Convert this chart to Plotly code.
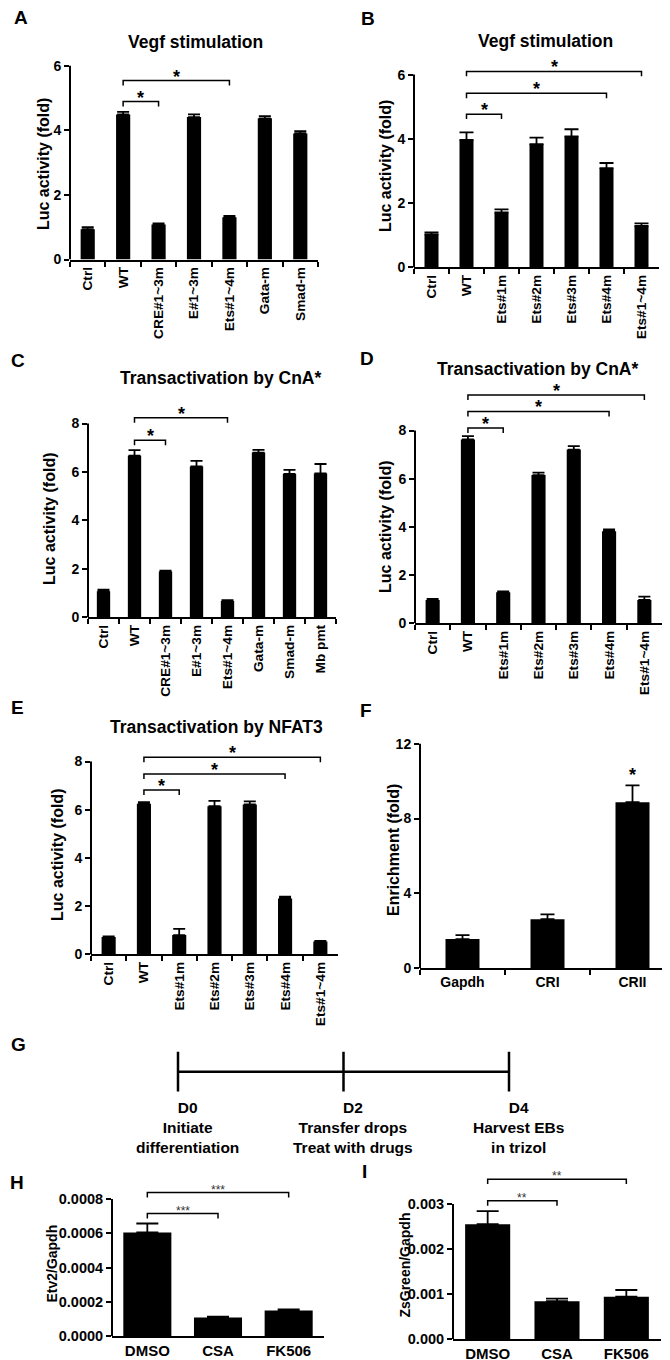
import plotly.graph_objects as go

W, H = 670, 1360
FONT = "Liberation Sans"

# ---------------- data ----------------
cat_A = ["Ctrl", "WT", "CRE#1~3m", "E#1~3m", "Ets#1~4m", "Gata-m", "Smad-m"]
val_A = [0.94, 4.49, 1.08, 4.41, 1.31, 4.37, 3.90]
err_A = [0.06, 0.08, 0.04, 0.08, 0.04, 0.07, 0.07]
sig_A = [("WT", "CRE#1~3m", 4.89, "*"), ("WT", "Ets#1~4m", 5.54, "*")]

cat_ets = ["Ctrl", "WT", "Ets#1m", "Ets#2m", "Ets#3m", "Ets#4m", "Ets#1~4m"]
val_B = [1.03, 3.97, 1.71, 3.84, 4.08, 3.09, 1.29]
err_B = [0.06, 0.23, 0.10, 0.20, 0.22, 0.16, 0.08]
sig_B = [("WT", "Ets#1m", 4.77, "*"), ("WT", "Ets#4m", 5.42, "*"), ("WT", "Ets#1~4m", 6.10, "*")]

cat_C = ["Ctrl", "WT", "CRE#1~3m", "E#1~3m", "Ets#1~4m", "Gata-m", "Smad-m", "Mb pmt"]
val_C = [1.08, 6.67, 1.89, 6.23, 0.68, 6.80, 5.92, 5.94]
err_C = [0.06, 0.23, 0.04, 0.23, 0.03, 0.11, 0.17, 0.39]
sig_C = [("WT", "CRE#1~3m", 7.31, "*"), ("WT", "Ets#1~4m", 8.24, "*")]

val_D = [0.97, 7.63, 1.29, 6.15, 7.21, 3.82, 0.97]
err_D = [0.04, 0.14, 0.04, 0.10, 0.14, 0.08, 0.14]
sig_D = [("WT", "Ets#1m", 8.10, "*"), ("WT", "Ets#4m", 8.79, "*"), ("WT", "Ets#1~4m", 9.47, "*")]

val_E = [0.72, 6.25, 0.80, 6.15, 6.22, 2.32, 0.53]
err_E = [0.03, 0.07, 0.26, 0.22, 0.13, 0.08, 0.03]
sig_E = [("WT", "Ets#1m", 6.82, "*"), ("WT", "Ets#4m", 7.48, "*"), ("WT", "Ets#1~4m", 8.18, "*")]

cat_F = ["Gapdh", "CRI", "CRII"]
val_F = [1.56, 2.62, 8.87]
err_F = [0.21, 0.26, 0.90]
star_F = [("CRII", 10.35, "*")]

cat_drug = ["DMSO", "CSA", "FK506"]
val_H = [0.000605, 0.000108, 0.000150]
err_H = [0.000052, 0.000006, 0.000006]
sig_H = [("DMSO", "CSA", 0.000715, "***"), ("DMSO", "FK506", 0.000837, "***")]

val_I = [0.00255, 0.00084, 0.00094]
err_I = [0.00029, 0.00006, 0.00015]
sig_I = [("DMSO", "CSA", 0.00307, "**"), ("DMSO", "FK506", 0.00355, "**")]

timeline_days = [0, 2, 4]
timeline_labels = ["D0<br>Initiate<br>differentiation",
                   "D2<br>Transfer drops<br>Treat with drugs",
                   "D4<br>Harvest EBs<br>in trizol"]

# ---------------- layout geometry (pixels) ----------------
panels = [
    dict(n=1, cats=cat_A, vals=val_A, errs=err_A, sig=sig_A, stars=[], x0=62, x1=310, py0=253, pytop=58,
         ytop=6, tickvals=[0, 2, 4, 6], ticktext=None, bw=0.4, cap=6, rot=True,
         title="Vegf stimulation", tpos=(187, 34), label="A", lpos=(13, 10),
         ytitle="Luc activity (fold)", ytpos=(35, 157), ytsize=16, sigsize=18, xticks=True),
    dict(n=2, cats=cat_ets, vals=val_B, errs=err_B, sig=sig_B, stars=[], x0=406, x1=651, py0=261, pytop=67,
         ytop=6, tickvals=[0, 2, 4, 6], ticktext=None, bw=0.4, cap=7, rot=True,
         title="Vegf stimulation", tpos=(537, 33), label="B", lpos=(360, 11),
         ytitle="Luc activity (fold)", ytpos=(377, 159), ytsize=16, sigsize=18, xticks=True),
    dict(n=3, cats=cat_C, vals=val_C, errs=err_C, sig=sig_C, stars=[], x0=80, x1=328, py0=613, pytop=418,
         ytop=8, tickvals=[0, 2, 4, 6, 8], ticktext=None, bw=0.43, cap=6, rot=True,
         title="Transactivation by CnA*", tpos=(212, 372), label="C", lpos=(10, 355),
         ytitle="Luc activity (fold)", ytpos=(42, 514), ytsize=16, sigsize=18, xticks=True),
    dict(n=4, cats=cat_ets, vals=val_D, errs=err_D, sig=sig_D, stars=[], x0=407, x1=654, py0=619, pytop=425,
         ytop=8, tickvals=[0, 2, 4, 6, 8], ticktext=None, bw=0.4, cap=6, rot=True,
         title="Transactivation by CnA*", tpos=(529, 363), label="D", lpos=(359, 353),
         ytitle="Luc activity (fold)", ytpos=(378, 522), ytsize=16, sigsize=18, xticks=True),
    dict(n=5, cats=cat_ets, vals=val_E, errs=err_E, sig=sig_E, stars=[], x0=83, x1=330, py0=952, pytop=758,
         ytop=8, tickvals=[0, 2, 4, 6, 8], ticktext=None, bw=0.4, cap=6, rot=True,
         title="Transactivation by NFAT3", tpos=(208, 723), label="E", lpos=(9, 704),
         ytitle="Luc activity (fold)", ytpos=(50, 852), ytsize=16, sigsize=18, xticks=True),
    dict(n=6, cats=cat_F, vals=val_F, errs=err_F, sig=[], stars=star_F, x0=412, x1=667, py0=966, pytop=740,
         ytop=12, tickvals=[0, 4, 8, 12], ticktext=None, bw=0.4, cap=7, rot=False,
         title=None, tpos=None, label="F", lpos=(358, 707),
         ytitle="Enrichment (fold)", ytpos=(385, 847), ytsize=16, sigsize=18, xticks=True),
    dict(n=8, cats=cat_drug, vals=val_H, errs=err_H, sig=sig_H, stars=[], x0=104, x1=316, py0=1336, pytop=1198,
         ytop=0.0008, tickvals=[0, 0.0002, 0.0004, 0.0006, 0.0008],
         ticktext=["0.0000", "0.0002", "0.0004", "0.0006", "0.0008"], bw=0.68, cap=11, rot=False,
         title=None, tpos=None, label="H", lpos=(9, 1181),
         ytitle="Etv2/Gapdh", ytpos=(44, 1263), ytsize=14, sigsize=12, xticks=False),
    dict(n=9, cats=cat_drug, vals=val_I, errs=err_I, sig=sig_I, stars=[], x0=445, x1=653, py0=1339, pytop=1203,
         ytop=0.003, tickvals=[0, 0.001, 0.002, 0.003],
         ticktext=["0.000", "0.001", "0.002", "0.003"], bw=0.65, cap=11, rot=False,
         title=None, tpos=None, label="I", lpos=(356, 1170),
         ytitle="ZsGreen/Gapdh", ytpos=(397, 1264), ytsize=14, sigsize=12, xticks=False),
]

fig = go.Figure()
annotations = []
shapes = []
layout_axes = {}

def bold(size):
    return dict(family=FONT, size=size, color="black", weight="bold")

def sfx(n):
    return "" if n == 1 else str(n)

for p in panels:
    n = p["n"]
    xa, ya = f"x{sfx(n)}", f"y{sfx(n)}"
    ppu = (p["py0"] - p["pytop"]) / p["ytop"]
    top_vals = [s[2] for s in p["sig"]] + [s[1] for s in p["stars"]] + [p["ytop"]]
    yr = max(top_vals) + 12 / ppu
    dom_y = [1 - p["py0"] / H, 1 - (p["py0"] - yr * ppu) / H]
    dom_x = [p["x0"] / W, p["x1"] / W]

    nb = len(p["cats"])
    fig.add_trace(go.Bar(
        x=p["cats"], y=p["vals"], width=p["bw"],
        marker=dict(color="black", line=dict(width=0)),
        error_y=dict(type="data", symmetric=False, array=p["errs"], arrayminus=[0] * nb,
                     color="black", thickness=1.8, width=p["cap"]),
        xaxis=xa, yaxis=ya, showlegend=False, hoverinfo="skip"))

    drop = 5 / ppu
    big = p["sigsize"] > 14
    for a, b, yv, txt in p["sig"]:
        fig.add_trace(go.Scatter(
            x=[a, a, b, b], y=[yv - drop, yv, yv, yv - drop], mode="lines",
            line=dict(color="black", width=1.5), xaxis=xa, yaxis=ya,
            showlegend=False, hoverinfo="skip"))
        ia, ib = p["cats"].index(a), p["cats"].index(b)
        f = bold(p["sigsize"]) if big else dict(family=FONT, size=p["sigsize"], color="#333")
        annotations.append(dict(x=(ia + ib) / 2, y=yv, xref=xa, yref=ya, text=txt, showarrow=False,
                                yanchor="middle", yshift=4 if big else 3, font=f))
    for c, yv, txt in p["stars"]:
        annotations.append(dict(x=p["cats"].index(c), y=yv, xref=xa, yref=ya, text=txt, showarrow=False,
                                yanchor="middle", font=bold(p["sigsize"])))

    # y axis line only up to the top tick
    shapes.append(dict(type="line", xref=f"{xa} domain", yref=ya, x0=0, x1=0, y0=0, y1=p["ytop"],
                       line=dict(color="black", width=2)))

    layout_axes[f"xaxis{sfx(n)}"] = dict(
        domain=dom_x, anchor=ya, type="category", showline=True, linecolor="black", linewidth=2,
        ticks="outside" if p["xticks"] else "", tickson="boundaries", ticklen=5, tickwidth=2,
        tickcolor="black", tickangle=-90 if p["rot"] else 0,
        tickfont=bold(13.7 if p["rot"] else (14 if n == 6 else 15)),
        showgrid=False, zeroline=False, fixedrange=True)
    yax = dict(domain=dom_y, anchor=xa, range=[0, yr], showline=False, showgrid=False, zeroline=False,
               tickvals=p["tickvals"], ticks="outside", ticklen=5, tickwidth=2, tickcolor="black",
               tickfont=bold(14 if n < 8 else 14.5), fixedrange=True)
    if p["ticktext"]:
        yax["ticktext"] = p["ticktext"]
    layout_axes[f"yaxis{sfx(n)}"] = yax

    if p["title"]:
        annotations.append(dict(x=p["tpos"][0] / W, y=1 - p["tpos"][1] / H, xref="paper", yref="paper",
                                text=p["title"], showarrow=False, xanchor="center", yanchor="middle",
                                font=bold(17.5)))
    annotations.append(dict(x=p["lpos"][0] / W, y=1 - p["lpos"][1] / H, xref="paper", yref="paper",
                            text=p["label"], showarrow=False, xanchor="center", yanchor="middle",
                            font=bold(19)))
    annotations.append(dict(x=p["ytpos"][0] / W, y=1 - p["ytpos"][1] / H, xref="paper", yref="paper",
                            text=p["ytitle"], textangle=-90, showarrow=False, xanchor="center",
                            yanchor="middle", font=bold(p["ytsize"])))

# ---------------- panel G: timeline ----------------
px_d0, px_d4 = 170, 501
ppd = (px_d4 - px_d0) / (timeline_days[-1] - timeline_days[0])
gx_rng = [-1, 5]
gy_rng = [-5.5, 1.5]
ppy = 20
gy_top_px = 1050 - (gy_rng[1] - 1) * ppy
gy_bot_px = 1050 + (1 - gy_rng[0]) * ppy
layout_axes["xaxis7"] = dict(domain=[(px_d0 + gx_rng[0] * ppd) / W, (px_d0 + gx_rng[1] * ppd) / W],
                             anchor="y7", range=gx_rng, visible=False, fixedrange=True)
layout_axes["yaxis7"] = dict(domain=[1 - gy_bot_px / H, 1 - gy_top_px / H], anchor="x7",
                             range=gy_rng, visible=False, fixedrange=True)
fig.add_trace(go.Scatter(x=[timeline_days[0], timeline_days[-1]], y=[0, 0], mode="lines",
                         line=dict(color="black", width=2.5), xaxis="x7", yaxis="y7",
                         showlegend=False, hoverinfo="skip"))
for d, lab in zip(timeline_days, timeline_labels):
    fig.add_trace(go.Scatter(x=[d, d], y=[-1, 1], mode="lines", line=dict(color="black", width=2.5),
                             xaxis="x7", yaxis="y7", showlegend=False, hoverinfo="skip"))
    annotations.append(dict(x=d, y=-1.25, xref="x7", yref="y7", text=lab, showarrow=False,
                            xanchor="center", yanchor="top", xshift=9, align="center",
                            font=bold(15.5)))
annotations.append(dict(x=10 / W, y=1 - 1043 / H, xref="paper", yref="paper", text="G",
                        showarrow=False, xanchor="center", yanchor="middle", font=bold(19)))

fig.update_layout(
    width=W, height=H, margin=dict(l=0, r=0, t=0, b=0),
    paper_bgcolor="white", plot_bgcolor="rgba(0,0,0,0)",
    font=dict(family=FONT, color="black"),
    showlegend=False, bargap=0.5,
    annotations=annotations, shapes=shapes, **layout_axes)

fig.write_html("out.html")
